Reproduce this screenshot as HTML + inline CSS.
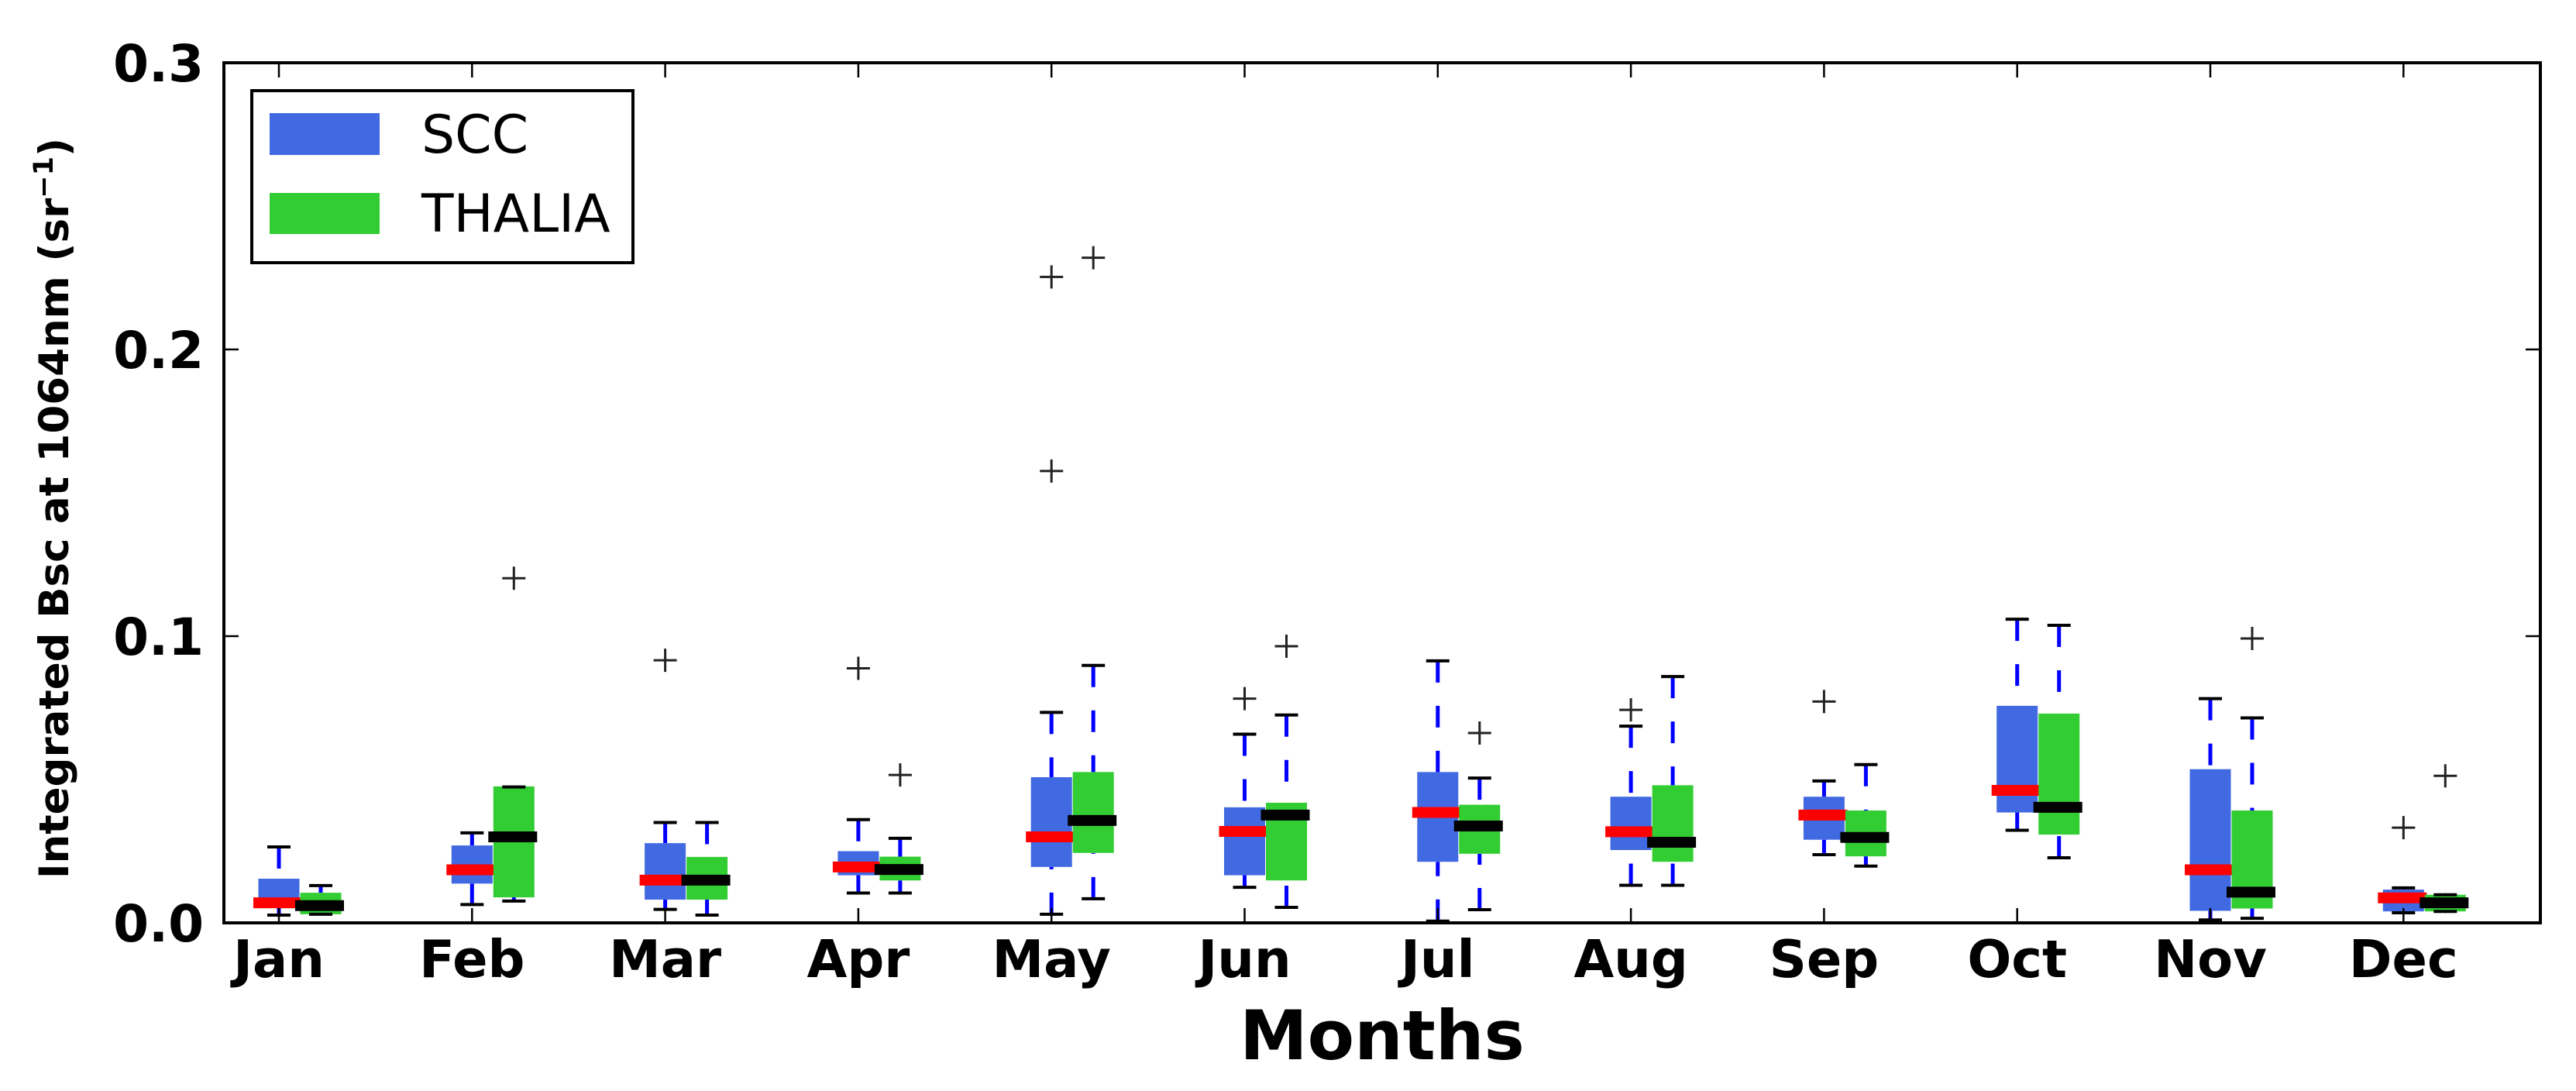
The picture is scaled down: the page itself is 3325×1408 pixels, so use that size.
<!DOCTYPE html>
<html><head><meta charset="utf-8"><style>
html,body{margin:0;padding:0;background:#fff}
svg{display:block;font-family:"DejaVu Sans","Liberation Sans",sans-serif}
</style></head><body>
<svg id="chart" width="3325" height="1408" viewBox="0 0 3325 1408" xmlns="http://www.w3.org/2000/svg">
<g id="marks"></g>
<g id="axes"></g>
<text x="1784" y="1367" font-size="88" font-weight="bold" text-anchor="middle">Months</text>
<text transform="translate(88,656) rotate(-90)" font-size="53" font-weight="bold" text-anchor="middle">Integrated Bsc at 1064nm (sr<tspan font-size="35" dy="-20">−1</tspan><tspan dy="20">)</tspan></text>
<g>
<rect x="325" y="117" width="492" height="222" fill="#fff" stroke="#000" stroke-width="4"/>
<g>
<rect x="348" y="146" width="142" height="54" fill="#4169E1"/>
<text x="544" y="197" font-size="68">SCC</text>
</g>
<g>
<rect x="348" y="249" width="142" height="53" fill="#32CD32"/>
<text x="544" y="299" font-size="68">THALIA</text>
</g>
</g>
</svg>
<script>
const months = ["Jan","Feb","Mar","Apr","May","Jun","Jul","Aug","Sep","Oct","Nov","Dec"];
const yTicks = [0.0, 0.1, 0.2, 0.3];
const yTickLabels = ["0.0","0.1","0.2","0.3"];
const sccLow  = [0.0027,0.0064,0.0047,0.0104,0.003,0.0124,0.0006,0.0131,0.0238,0.0323,0.001,0.0035];
const sccQ1   = [0.006,0.0137,0.0081,0.0166,0.0195,0.0166,0.0213,0.0254,0.029,0.0385,0.0042,0.004];
const sccMed  = [0.007,0.0185,0.0149,0.0195,0.030,0.0319,0.0385,0.0318,0.0376,0.0462,0.0185,0.0087];
const sccQ3   = [0.0154,0.027,0.0278,0.025,0.0508,0.0403,0.0526,0.044,0.044,0.0757,0.0536,0.0116];
const sccHigh = [0.0265,0.0314,0.035,0.036,0.0734,0.0658,0.0914,0.0686,0.0495,0.1059,0.0782,0.0122];
const sccOut  = [[],[],[0.0916],[0.0888],[0.2253,0.1576],[0.0782],[],[0.0743],[0.0772],[],[],[0.0332]];
const thaLow  = [0.003,0.0076,0.0027,0.0104,0.0084,0.0054,0.0046,0.0131,0.0198,0.0227,0.0016,0.004];
const thaQ1   = [0.003,0.0089,0.0081,0.0148,0.0244,0.0148,0.0241,0.0213,0.0232,0.0308,0.005,0.004];
const thaMed  = [0.006,0.030,0.0149,0.0186,0.0357,0.0376,0.0338,0.0281,0.0298,0.0403,0.0107,0.007];
const thaQ3   = [0.0105,0.0476,0.023,0.0231,0.0526,0.0419,0.0412,0.048,0.0392,0.073,0.0392,0.0098];
const thaHigh = [0.013,0.0474,0.035,0.0295,0.0898,0.0725,0.0505,0.0859,0.0552,0.1038,0.0715,0.0098];
const thaOut  = [[],[0.1202],[],[0.0516],[0.232],[0.0965],[0.0662],[],[],[],[0.0992],[0.0513]];

const NS = "http://www.w3.org/2000/svg";
const L=289, R=3279, T=81, B=1191;
function xScale(i){ return 360 + i*249.3; }
function yScale(v){ return B - (v/0.3)*(B-T); }
function mk(tag, attrs, parent){
  const e=document.createElementNS(NS,tag);
  for(const k in attrs) e.setAttribute(k, attrs[k]);
  parent.appendChild(e); return e;
}
const marks=document.getElementById('marks');
const axes=document.getElementById('axes');
const BW=53;

function drawBox(i, cx, low, q1, med, q3, high, outs, fill, medColor, series){
  const g=mk('g',{},marks);
  
  
  const w1=mk('line',{x1:cx,y1:yScale(high),x2:cx,y2:yScale(q3),stroke:'#0000FF','stroke-width':5,'stroke-dasharray':'28 30'},g);
  
  
  const w2=mk('line',{x1:cx,y1:yScale(low),x2:cx,y2:yScale(q1),stroke:'#0000FF','stroke-width':5,'stroke-dasharray':'28 30'},g);
  
  
  const bx=mk('rect',{x:cx-BW/2,y:yScale(q3),width:BW,height:Math.max(1,yScale(q1)-yScale(q3)),fill:fill},g);
  
  
  const c1=mk('line',{x1:cx-15,x2:cx+15,y1:yScale(high),y2:yScale(high),stroke:'#000','stroke-width':4},g);
  
  
  const c2=mk('line',{x1:cx-15,x2:cx+15,y1:yScale(low),y2:yScale(low),stroke:'#000','stroke-width':4},g);
  
  
  const m=mk('line',{x1:cx-33,x2:cx+30,y1:yScale(med),y2:yScale(med),stroke:medColor,'stroke-width':14},g);
  
  
  outs.forEach(v=>{
    const y=yScale(v);
    const p=mk('path',{d:`M${cx-15} ${y}H${cx+15}M${cx} ${y-15}V${y+15}`,stroke:'#222','stroke-width':3,fill:'none'},g);
    
    
  });
}
months.forEach((m,i)=>{
  const cx=xScale(i);
  drawBox(i,cx,sccLow[i],sccQ1[i],sccMed[i],sccQ3[i],sccHigh[i],sccOut[i],'#4169E1','#FF0000','scc');
  drawBox(i,cx+54,thaLow[i],thaQ1[i],thaMed[i],thaQ3[i],thaHigh[i],thaOut[i],'#32CD32','#000000','thalia');
});

const fr=mk('rect',{x:L,y:T,width:R-L,height:B-T,fill:'none',stroke:'#000','stroke-width':4},axes);


months.forEach((m,i)=>{
  const x=xScale(i);
  const t1=mk('line',{x1:x,x2:x,y1:B,y2:B-19,stroke:'#000','stroke-width':2.5},axes);
  
  
  const t2=mk('line',{x1:x,x2:x,y1:T,y2:T+19,stroke:'#000','stroke-width':2.5},axes);
  
  
  const lb=mk('text',{x:x,y:1261,'font-size':67,'font-weight':'bold','text-anchor':'middle'},axes);
  lb.textContent=m;
  
  
});
yTicks.forEach((v,i)=>{
  const y=yScale(v);
  const t1=mk('line',{x1:L,x2:L+19,y1:y,y2:y,stroke:'#000','stroke-width':2.5},axes);
  
  
  const t2=mk('line',{x1:R,x2:R-19,y1:y,y2:y,stroke:'#000','stroke-width':2.5},axes);
  
  
  const lb=mk('text',{x:263,y:y+24,'font-size':66,'font-weight':'bold','text-anchor':'end'},axes);
  lb.textContent=yTickLabels[i];
  
  
});
</script>
</body></html>
